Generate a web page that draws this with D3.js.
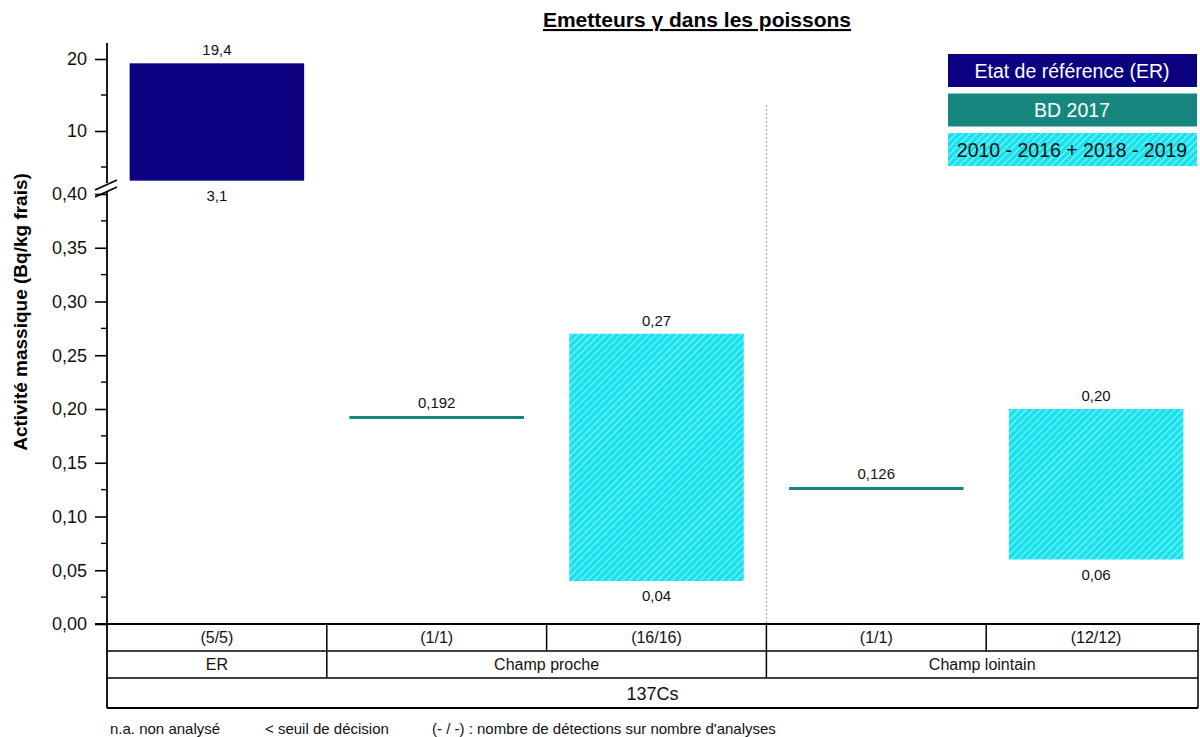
<!DOCTYPE html>
<html><head><meta charset="utf-8">
<script src="https://cdn.jsdelivr.net/npm/d3@7"></script>
<style>body{margin:0;background:#fff}svg{display:block;font-family:Arial,"Liberation Sans",sans-serif}</style>
</head><body><svg id="c" width="1200" height="737"></svg>
<script>
// ---- data ----
const counts = ["(5/5)", "(1/1)", "(16/16)", "(1/1)", "(12/12)"];
const seriesType = ["ER", "BD", "range", "BD", "range"];
const lows  = [3.1, 0.192, 0.04, 0.126, 0.06];
const highs = [19.4, 0.192, 0.27, 0.126, 0.20];
const highLabels = ["19,4", "0,192", "0,27", "0,126", "0,20"];
const lowLabels  = ["3,1", null, "0,04", null, "0,06"];
const groups = ["ER", "Champ proche", "Champ lointain"];
const groupSpans = [[0, 0], [1, 2], [3, 4]];
const element = "137Cs";
const lowTicks = [0, 0.05, 0.10, 0.15, 0.20, 0.25, 0.30, 0.35, 0.40];
const highTicks = [10, 20];
const legendLabels = ["Etat de référence (ER)", "BD 2017", "2010 - 2016 + 2018 - 2019"];
const legendTypes = ["ER", "BD", "range"];

const colors = {ER: "#0a0080", BD: "#16877e", range: "#19e2ef"};

const svg = d3.select("#c");
const defs = svg.append("defs");
const pat = defs.append("pattern").attr("id", "hatch").attr("patternUnits", "userSpaceOnUse")
  .attr("width", 5).attr("height", 5).attr("patternTransform", "rotate(45)");
pat.append("rect").attr("width", 5).attr("height", 5).attr("fill", colors.range);
pat.append("line").attr("x1", 0).attr("y1", 0).attr("x2", 0).attr("y2", 5)
  .attr("stroke", "#fff").attr("stroke-width", 1.3).attr("stroke-opacity", 0.8);
const fillOf = t => t === "range" ? "url(#hatch)" : colors[t];

// ---- scales ----
const axisX = 107, tableRight = 1198;
const x = d3.scaleBand().domain(d3.range(counts.length)).range([axisX, 1206]).paddingInner(0).paddingOuter(0);
const yLow = d3.scaleLinear().domain([0, 0.40]).range([624, 194]);
const yHigh = d3.scaleLinear().domain([0, 20]).range([203, 59]);
const yv = v => v > 0.5 ? yHigh(v) : yLow(v);
const pad = x.bandwidth() * 0.103;

// title
svg.append("text").attr("x", 697).attr("y", 27).attr("text-anchor", "middle")
  .attr("font-size", 21).attr("font-weight", "bold").attr("text-decoration", "underline")
  .text("Emetteurs γ dans les poissons");

// y axis label
svg.append("text").attr("transform", "translate(27,312) rotate(-90)").attr("text-anchor", "middle")
  .attr("font-size", 19).attr("font-weight", "bold").text("Activité massique (Bq/kg frais)");

// dotted separator
svg.append("line").attr("x1", x(3)).attr("x2", x(3)).attr("y1", 105).attr("y2", 624)
  .attr("stroke", "#777").attr("stroke-width", 1).attr("stroke-dasharray", "1.5,2.5");

// bars & lines
const marks = svg.append("g");
counts.forEach((c, i) => {
  const t = seriesType[i];
  const x0 = x(i) + pad, w = x.bandwidth() - 2 * pad;
  if (t === "BD") {
    marks.append("line").attr("x1", x0).attr("x2", x0 + w).attr("y1", yv(highs[i])).attr("y2", yv(highs[i]))
      .attr("stroke", colors.BD).attr("stroke-width", 3);
  } else {
    marks.append("rect").attr("x", x0).attr("width", w).attr("y", yv(highs[i]))
      .attr("height", yv(lows[i]) - yv(highs[i])).attr("fill", fillOf(t));
  }
  marks.append("text").attr("x", x0 + w / 2).attr("y", yv(highs[i]) - (t === "BD" ? 10 : 8)).attr("text-anchor", "middle")
    .attr("font-size", 15).attr("fill", "#111").text(highLabels[i]);
  if (lowLabels[i]) marks.append("text").attr("x", x0 + w / 2).attr("y", yv(lows[i]) + 20)
    .attr("text-anchor", "middle").attr("font-size", 15).attr("fill", "#111").text(lowLabels[i]);
});

// y axes
const fmt = d => d3.format(".2f")(d).replace(".", ",");
const gLow = svg.append("g").attr("transform", `translate(${axisX},0)`)
  .call(d3.axisLeft(yLow).tickValues(lowTicks).tickFormat(fmt).tickSize(12).tickPadding(8));
const gHigh = svg.append("g").attr("transform", `translate(${axisX},0)`)
  .call(d3.axisLeft(yHigh).tickValues(highTicks).tickFormat(d3.format("d")).tickSize(12).tickPadding(8));
[gLow, gHigh].forEach(g => {
  g.select(".domain").remove();
  g.selectAll("text").attr("font-size", 18).attr("fill", "#111").attr("font-family", "Arial, Liberation Sans, sans-serif");
  g.selectAll("line").attr("stroke", "#000").attr("stroke-width", 1.6);
});
// minor ticks
const minorLow = d3.range(0.025, 0.40, 0.05);
const minorHigh = [5, 15];
svg.append("g").selectAll("line").data(minorLow.map(yLow).concat(minorHigh.map(yHigh))).join("line")
  .attr("x1", axisX - 6).attr("x2", axisX).attr("y1", d => d).attr("y2", d => d)
  .attr("stroke", "#000").attr("stroke-width", 1.4);
// axis lines with break
svg.append("line").attr("x1", axisX).attr("x2", axisX).attr("y1", 43).attr("y2", 183).attr("stroke", "#000").attr("stroke-width", 1.8);
svg.append("line").attr("x1", axisX).attr("x2", axisX).attr("y1", 192).attr("y2", 708).attr("stroke", "#000").attr("stroke-width", 1.8);
[[190, 180], [197, 187]].forEach(([a, b]) => {
  svg.append("line").attr("x1", 95).attr("y1", a).attr("x2", 117).attr("y2", b).attr("stroke", "#000").attr("stroke-width", 1.8);
});

// table
const tbl = svg.append("g").attr("stroke", "#000");
const rows = [624, 651, 678, 708];
tbl.append("line").attr("x1", 95).attr("x2", 1200).attr("y1", rows[0]).attr("y2", rows[0]).attr("stroke-width", 1.8);
[rows[1], rows[2]].forEach(r => tbl.append("line").attr("x1", axisX).attr("x2", tableRight).attr("y1", r).attr("y2", r).attr("stroke-width", 1.5));
tbl.append("line").attr("x1", axisX).attr("x2", tableRight).attr("y1", rows[3]).attr("y2", rows[3]).attr("stroke-width", 1.8);
tbl.append("line").attr("x1", tableRight).attr("x2", tableRight).attr("y1", rows[0]).attr("y2", rows[3]).attr("stroke-width", 1.5);
for (let i = 1; i < counts.length; i++) {
  tbl.append("line").attr("x1", x(i)).attr("x2", x(i)).attr("y1", rows[0]).attr("y2", rows[1]).attr("stroke-width", 1.5);
}
groupSpans.slice(1).forEach(s => tbl.append("line").attr("x1", x(s[0])).attr("x2", x(s[0])).attr("y1", rows[1]).attr("y2", rows[2]).attr("stroke-width", 1.5));
const tt = svg.append("g").attr("font-size", 16).attr("text-anchor", "middle").attr("fill", "#111");
counts.forEach((c, i) => tt.append("text").attr("x", x(i) + x.bandwidth() / 2).attr("y", 643).text(c));
groups.forEach((g, k) => {
  const s = groupSpans[k];
  const cx = k === groups.length - 1 ? (x(s[0]) + tableRight) / 2 : (x(s[0]) + x(s[1]) + x.bandwidth()) / 2;
  tt.append("text").attr("x", cx).attr("y", 670).text(g);
});
tt.append("text").attr("x", (axisX + tableRight) / 2).attr("y", 700).attr("font-size", 18).text(element);

// footnote
const foot = svg.append("g").attr("font-size", 15).attr("fill", "#111");
[["n.a. non analysé", 110], ["< seuil de décision", 265], ["(- / -) : nombre de détections sur nombre d'analyses", 432]]
  .forEach(([t, xx]) => foot.append("text").attr("x", xx).attr("y", 734).text(t));

// legend
legendLabels.forEach((l, i) => {
  const y0 = 54 + i * 39.5;
  svg.append("rect").attr("x", 948).attr("y", y0).attr("width", 249).attr("height", 33).attr("fill", fillOf(legendTypes[i]));
  svg.append("text").attr("x", 1072).attr("y", y0 + 23.5).attr("text-anchor", "middle").attr("font-size", 19.5)
    .attr("fill", legendTypes[i] === "range" ? "#111" : "#fff").text(l);
});
</script></body></html>
